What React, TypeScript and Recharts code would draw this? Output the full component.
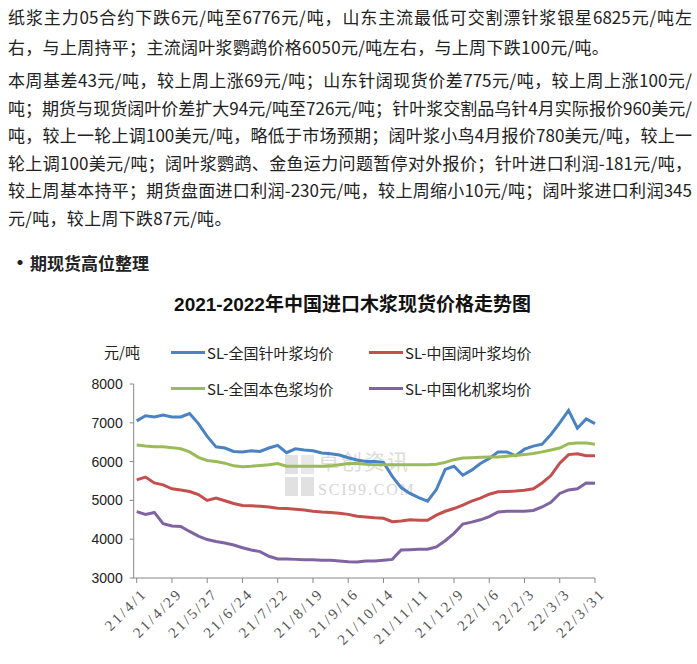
import React from 'react';
import { LineChart, Line, XAxis, YAxis, Legend } from 'recharts';

const dates = [
  '21/4/1', '21/4/8', '21/4/15', '21/4/22', '21/4/29', '21/5/6', '21/5/13', '21/5/20', '21/5/27',
  '21/6/3', '21/6/10', '21/6/17', '21/6/24', '21/7/1', '21/7/8', '21/7/15', '21/7/22', '21/7/29',
  '21/8/5', '21/8/12', '21/8/19', '21/8/26', '21/9/2', '21/9/9', '21/9/16', '21/9/23', '21/9/30',
  '21/10/7', '21/10/14', '21/10/21', '21/10/28', '21/11/4', '21/11/11', '21/11/18', '21/11/25',
  '21/12/2', '21/12/9', '21/12/16', '21/12/23', '21/12/30', '22/1/6', '22/1/13', '22/1/20', '22/1/27',
  '22/2/3', '22/2/10', '22/2/17', '22/2/24', '22/3/3', '22/3/10', '22/3/17', '22/3/24', '22/3/31',
];

const needleAvg = [
  7050, 7180, 7150, 7200, 7150, 7150, 7240, 6980, 6650, 6380,
  6350, 6260, 6250, 6280, 6260, 6350, 6420, 6230, 6330, 6300,
  6280, 6220, 6200, 6170, 6100, 6040, 6000, 6000, 5980, 5620,
  5330, 5180, 5070, 4980, 5280, 5800, 5880, 5650, 5780, 5950,
  6080, 6250, 6250, 6150, 6320, 6400, 6450, 6700, 7000, 7320,
  6860, 7100, 6980,
];

const hardwoodAvg = [
  5530, 5600, 5450, 5400, 5300, 5270, 5230, 5150, 5000, 5060,
  4990, 4920, 4870, 4860, 4850, 4830, 4800, 4790, 4770, 4750,
  4720, 4700, 4690, 4670, 4640, 4590, 4570, 4550, 4540, 4450,
  4470, 4500, 4490, 4490, 4620, 4720, 4790, 4880, 4980, 5060,
  5160, 5220, 5230, 5240, 5260, 5300, 5450, 5640, 5960, 6180,
  6200, 6150, 6150,
];

const unbleachedAvg = [
  6430, 6400, 6380, 6380, 6360, 6330, 6250, 6110, 6030, 6000,
  5960, 5890, 5870, 5880, 5900, 5920, 5950, 5880, 5880, 5880,
  5880, 5880, 5890, 5920, 5950, 5950, 5930, 5920, 5920, 5920,
  5920, 5920, 5920, 5920, 5930, 5980, 6050, 6090, 6100, 6110,
  6120, 6120, 6140, 6160, 6180, 6210, 6250, 6300, 6350, 6460,
  6480, 6480, 6450,
];

const mechanicalAvg = [
  4710, 4640, 4690, 4400, 4340, 4330, 4200, 4080, 3990, 3940,
  3900, 3850, 3780, 3720, 3680, 3560, 3490, 3490, 3480, 3470,
  3470, 3460, 3460, 3440, 3420, 3410, 3440, 3440, 3460, 3480,
  3720, 3730, 3740, 3740, 3800, 3960, 4150, 4390, 4440, 4500,
  4580, 4700, 4720, 4720, 4720, 4740, 4830, 4950, 5180, 5270,
  5300, 5450, 5440,
];

const yTicks = [3000, 4000, 5000, 6000, 7000, 8000];

const seriesNames = ['SL-全国针叶浆均价', 'SL-中国阔叶浆均价', 'SL-全国本色浆均价', 'SL-中国化机浆均价'];
const seriesColors = ['#4a82c3', '#c4504d', '#9bbb59', '#8064a2'];

const chartTitle = '2021-2022年中国进口木浆现货价格走势图';
const unitLabel = '元/吨';

const para1 = [
  '纸浆主力05合约下跌6元/吨至6776元/吨，山东主流最低可交割漂针浆银星6825元/吨左',
  '右，与上周持平；主流阔叶浆鹦鹉价格6050元/吨左右，与上周下跌100元/吨。',
];
const para2 = [
  '本周基差43元/吨，较上周上涨69元/吨；山东针阔现货价差775元/吨，较上周上涨100元/',
  '吨；期货与现货阔叶价差扩大94元/吨至726元/吨；针叶浆交割品乌针4月实际报价960美元/',
  '吨，较上一轮上调100美元/吨，略低于市场预期；阔叶浆小鸟4月报价780美元/吨，较上一',
  '轮上调100美元/吨；阔叶浆鹦鹉、金鱼运力问题暂停对外报价；针叶进口利润-181元/吨，',
  '较上周基本持平；期货盘面进口利润-230元/吨，较上周缩小10元/吨；阔叶浆进口利润345',
  '元/吨，较上周下跌87元/吨。',
];
const bulletText = '期现货高位整理';

const data = dates.map((d, i) => ({
  date: d,
  needle: needleAvg[i],
  hardwood: hardwoodAvg[i],
  unbleached: unbleachedAvg[i],
  mech: mechanicalAvg[i],
}));

const textFont = "'Noto Sans CJK SC', 'Noto Sans', sans-serif";

const TextLine = ({ text, y, full }: { text: string; y: number; full: boolean }) => (
  <div
    style={{
      position: 'absolute',
      left: 8,
      top: y - 14,
      width: full ? 684 : 'auto',
      height: 28,
      lineHeight: '28px',
      fontSize: 17,
      fontFamily: textFont,
      color: '#222',
      whiteSpace: 'nowrap',
      textAlign: full ? 'justify' : 'left',
      textAlignLast: full ? 'justify' : 'left',
      letterSpacing: full ? 0 : 0.3,
    } as React.CSSProperties}
  >
    {text}
  </div>
);

const XTick = (props: any) => {
  const { x, y, payload } = props;
  return (
    <g transform={`translate(${x + 4},${y + 2})`}>
      <text
        x={0}
        y={0}
        dy="0.7em"
        textAnchor="end"
        transform="rotate(-45)"
        fill="#555"
        fontSize={15}
        fontFamily="'Liberation Serif', serif"
        letterSpacing={2.4}
      >
        {payload.value}
      </text>
    </g>
  );
};

const LegendContent = (props: any) => {
  const { payload } = props;
  const items = (payload || [])
    .slice()
    .sort((a: any, b: any) => seriesNames.indexOf(a.value) - seriesNames.indexOf(b.value));
  return (
    <div style={{ display: 'grid', gridTemplateColumns: '198px 180px', rowGap: 14 }}>
      {items.map((entry: any, i: number) => (
        <div key={i} style={{ display: 'flex', alignItems: 'center', height: 22 }}>
          <div style={{ width: 34, height: 3, background: entry.color, marginRight: 2 }} />
          <span style={{ fontSize: 15, fontFamily: textFont, color: '#222', whiteSpace: 'nowrap' }}>{entry.value}</span>
        </div>
      ))}
    </div>
  );
};

export default function App() {
  return (
    <div style={{ position: 'absolute', left: 0, top: 0, width: 697, height: 664, background: '#fff', overflow: 'hidden' }}>
      {para1.map((t, i) => (
        <TextLine key={'a' + i} text={t} y={17 + i * 30} full={i < para1.length - 1} />
      ))}
      {para2.map((t, i) => (
        <TextLine key={'b' + i} text={t} y={80 + i * 27.6} full={i < para2.length - 1} />
      ))}
      <div style={{ position: 'absolute', left: 10, top: 248, height: 28, lineHeight: '28px', fontSize: 17, fontFamily: textFont, fontWeight: 700, color: '#222', whiteSpace: 'nowrap' }}>
        <span style={{ display: 'inline-block', width: 20, fontSize: 20 }}>•</span>
        {bulletText}
      </div>

      <div style={{ position: 'absolute', left: 0, width: 697, top: 289, textAlign: 'center', fontSize: 19, fontWeight: 700, fontFamily: "'Liberation Sans Narrow', 'Liberation Sans', 'Noto Sans CJK SC', sans-serif", color: '#111', paddingLeft: 8, boxSizing: 'border-box' }}>
        {chartTitle}
      </div>
      <div style={{ position: 'absolute', left: 104, top: 341, fontSize: 15, fontFamily: textFont, color: '#222' }}>{unitLabel}</div>

      {/* watermark */}
      <div style={{ position: 'absolute', left: 285, top: 455, width: 30, height: 42, display: 'grid', gridTemplateColumns: '13px 13px', gridTemplateRows: '19px 19px', gap: 3, opacity: 0.9 }}>
        <div style={{ background: '#dedede' }} />
        <div style={{ background: '#e6e6e6' }} />
        <div style={{ background: '#dedede' }} />
        <div style={{ background: '#dedede' }} />
      </div>
      <div style={{ position: 'absolute', left: 318, top: 449, height: 22, lineHeight: '22px', fontSize: 21, fontFamily: textFont, color: '#dcdcdc', letterSpacing: 2, whiteSpace: 'nowrap' }}>卓创资讯</div>
      <div style={{ position: 'absolute', left: 318, top: 481, height: 17, lineHeight: '17px', fontSize: 16, fontFamily: "'Liberation Serif', serif", color: '#d6d6d6', letterSpacing: 1.8, whiteSpace: 'nowrap' }}>SCI99.COM</div>

      <div style={{ position: 'absolute', left: 0, top: 0 }}>
        <LineChart width={697} height={664} data={data} margin={{ top: 384, right: 102, bottom: 26, left: 0 }}>
          <XAxis
            dataKey="date"
            interval={3}
            height={60}
            padding={{ left: 3, right: 0 }}
            tickSize={5}
            tickMargin={2}
            axisLine={{ stroke: '#888' }}
            tickLine={{ stroke: '#888' }}
            tick={<XTick />}
          />
          <YAxis
            width={133.7}
            domain={[3000, 8000]}
            ticks={yTicks}
            interval={0}
            tickSize={4}
            tickMargin={7}
            axisLine={{ stroke: '#888' }}
            tickLine={{ stroke: '#888' }}
            tick={{ fill: '#222', fontSize: 14, fontFamily: "'Liberation Sans', Arial, sans-serif" }}
          />
          <Legend
            verticalAlign="middle"
            layout="horizontal"
            content={<LegendContent />}
            wrapperStyle={{ position: 'absolute', left: 171, top: 341, width: 400 }}
          />
          <Line type="linear" dataKey="needle" name={seriesNames[0]} stroke={seriesColors[0]} strokeWidth={3} dot={false} isAnimationActive={false} />
          <Line type="linear" dataKey="hardwood" name={seriesNames[1]} stroke={seriesColors[1]} strokeWidth={3} dot={false} isAnimationActive={false} />
          <Line type="linear" dataKey="unbleached" name={seriesNames[2]} stroke={seriesColors[2]} strokeWidth={3} dot={false} isAnimationActive={false} />
          <Line type="linear" dataKey="mech" name={seriesNames[3]} stroke={seriesColors[3]} strokeWidth={3} dot={false} isAnimationActive={false} />
        </LineChart>
      </div>
    </div>
  );
}
